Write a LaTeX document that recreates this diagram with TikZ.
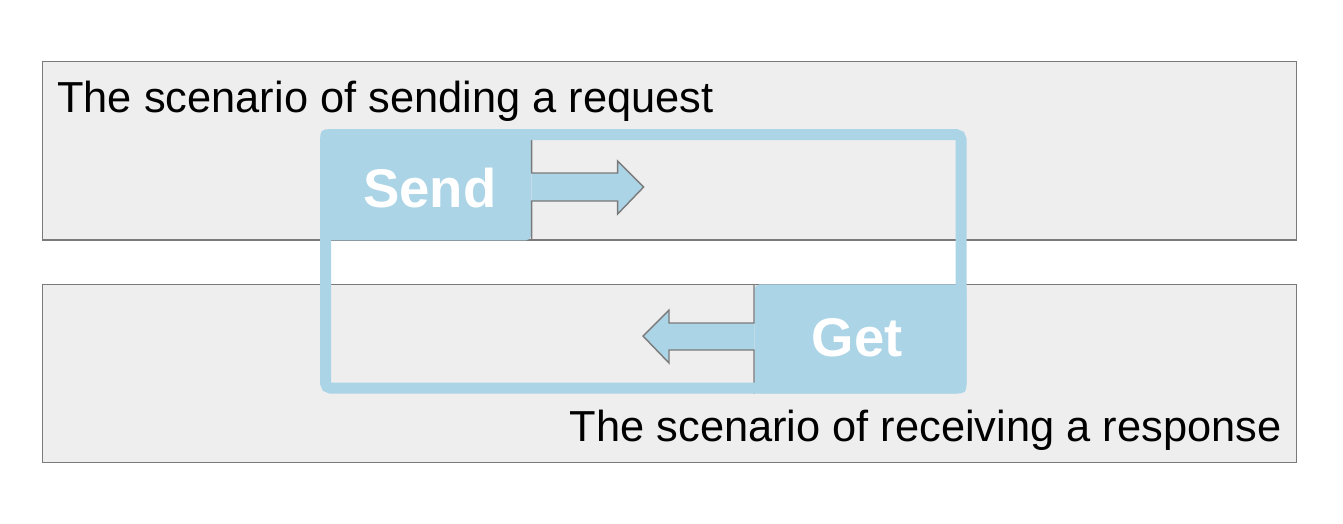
\documentclass[tikz,border=0pt]{standalone}
\usepackage{fontspec}
\setmainfont{Liberation Sans}
\usetikzlibrary{positioning, calc}
\definecolor{scenegray}{HTML}{EEEEEE}
\definecolor{edgegray}{HTML}{7A7A7A}
\definecolor{loopblue}{HTML}{ABD4E6}

\begin{document}
\begin{tikzpicture}[
  x=0.02cm, y=-0.02cm,
  scene/.style={rectangle, draw=edgegray, fill=scenegray, line width=0.6pt,
                minimum width=25.08cm, minimum height=3.57cm, inner sep=0pt,
                anchor=north west},
  block/.style={rectangle, fill=loopblue, text=white, inner sep=0pt,
                rounded corners=3pt,
                font=\bfseries\fontsize{31}{31}\selectfont, anchor=north west},
  flow/.style={fill=loopblue, draw=edgegray, line width=0.8pt},
  loopline/.style={draw=loopblue, line width=0.22cm, rounded corners=3pt},
  caption/.style={font=\fontsize{24.7}{24.7}\selectfont, inner sep=0pt},
]
  % Canvas
  \useasboundingbox[fill=white] (0,0) rectangle (1343,524);

  % Scenarios
  \node[scene] (request) at (42,61) {};
  \node[scene, minimum height=3.56cm] (response) at (42,284) {};

  % Send and Get blocks
  \node[block, minimum width=4.22cm, minimum height=2.22cm] (send) at (320,129) {};
  \node[block, minimum width=4.24cm, minimum height=2.18cm] (get) at (754,284) {};

  % Arrows
  \filldraw[flow] (send.north east) -- ++(0,44) -- ++(86,0) -- ++(0,-12)
    -- ++(26,26) -- ++(-26,27) -- ++(0,-13) -- ++(-86,0) -- (send.south east);
  \filldraw[flow] (get.north west) -- ++(0,39) -- ++(-85,0) -- ++(0,-13)
    -- ++(-26,26) -- ++(26,27) -- ++(0,-13) -- ++(85,0) -- (get.south west);

  % Loop frame
  \draw[loopline] ($(send.north west)+(5.5,5.5)$) rectangle ($(get.south east)+(-5.5,-5.5)$);

  % Labels
  \node[block, fill=none, anchor=base] at ($(send.south)+(4,-33)$) {Send};
  \node[block, fill=none, anchor=base] at ($(get.south)+(-3,-37)$) {Get};
  \node[caption, anchor=base west] at ($(request.north west)+(15,51)$)
    {The scenario of sending a request};
  \node[caption, anchor=base east] at ($(response.south east)+(-15,-22)$)
    {The scenario of receiving a response};
\end{tikzpicture}
\end{document}
